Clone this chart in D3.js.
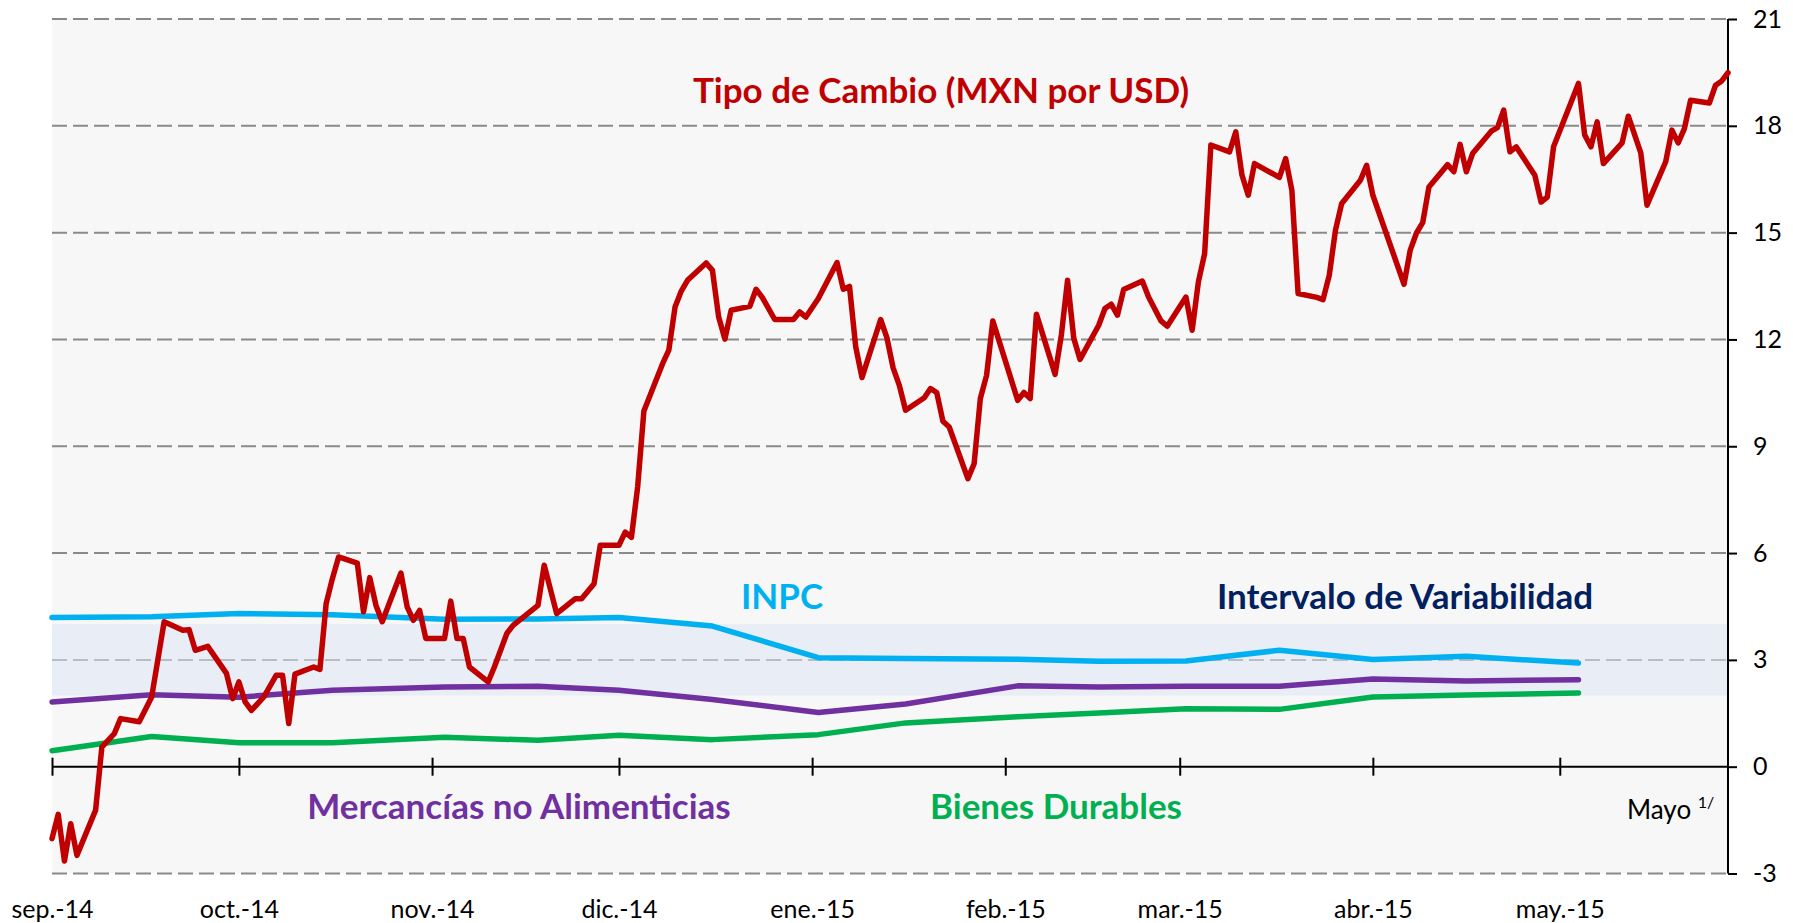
<!DOCTYPE html>
<html>
<head>
<meta charset="utf-8">
<title>Tipo de cambio e inflación</title>
<script src="https://d3js.org/d3.v7.min.js"></script>
<style>
body { margin: 0; background: #fff; }
text { font-family: Lato, "Open Sans", sans-serif; }
</style>
</head>
<body>
<svg width="1793" height="923"></svg>
<script>
// Tipo de cambio (variación), serie diaria
var fechasTC = ["2014-09-01","2014-09-02","2014-09-03","2014-09-04","2014-09-05","2014-09-08","2014-09-09","2014-09-10","2014-09-11","2014-09-12",
  "2014-09-15","2014-09-17","2014-09-19","2014-09-22","2014-09-23","2014-09-24","2014-09-26","2014-09-29","2014-09-30","2014-10-01",
  "2014-10-02","2014-10-03","2014-10-05","2014-10-07","2014-10-08","2014-10-09","2014-10-10","2014-10-13","2014-10-14","2014-10-15",
  "2014-10-16","2014-10-17","2014-10-20","2014-10-21","2014-10-22","2014-10-23","2014-10-24","2014-10-27","2014-10-28","2014-10-29",
  "2014-10-30","2014-10-31","2014-11-03","2014-11-04","2014-11-05","2014-11-06","2014-11-07","2014-11-10","2014-11-11","2014-11-13",
  "2014-11-14","2014-11-18","2014-11-19","2014-11-21","2014-11-24","2014-11-25","2014-11-27","2014-11-28","2014-12-01","2014-12-02",
  "2014-12-03","2014-12-04","2014-12-05","2014-12-08","2014-12-09","2014-12-10","2014-12-11","2014-12-12","2014-12-15","2014-12-16",
  "2014-12-17","2014-12-18","2014-12-19","2014-12-22","2014-12-23","2014-12-24","2014-12-26","2014-12-29","2014-12-30","2014-12-31",
  "2015-01-02","2015-01-05","2015-01-06","2015-01-07","2015-01-08","2015-01-09","2015-01-12","2015-01-13","2015-01-14","2015-01-15",
  "2015-01-16","2015-01-19","2015-01-20","2015-01-21","2015-01-22","2015-01-23","2015-01-26","2015-01-27","2015-01-28","2015-01-29",
  "2015-01-30","2015-02-03","2015-02-04","2015-02-05","2015-02-06","2015-02-09","2015-02-10","2015-02-11","2015-02-12","2015-02-13",
  "2015-02-16","2015-02-17","2015-02-18","2015-02-19","2015-02-20","2015-02-23","2015-02-24","2015-02-26","2015-02-27","2015-03-02",
  "2015-03-03","2015-03-04","2015-03-05","2015-03-06","2015-03-09","2015-03-10","2015-03-11","2015-03-12","2015-03-13","2015-03-17",
  "2015-03-18","2015-03-19","2015-03-20","2015-03-23","2015-03-24","2015-03-25","2015-03-26","2015-03-27","2015-03-30","2015-03-31",
  "2015-04-01","2015-04-06","2015-04-07","2015-04-08","2015-04-09","2015-04-10","2015-04-13","2015-04-14","2015-04-15","2015-04-16",
  "2015-04-17","2015-04-20","2015-04-21","2015-04-22","2015-04-23","2015-04-24","2015-04-27","2015-04-28","2015-04-29","2015-04-30",
  "2015-05-04","2015-05-05","2015-05-06","2015-05-07","2015-05-08","2015-05-11","2015-05-12","2015-05-14","2015-05-15","2015-05-18",
  "2015-05-19","2015-05-20","2015-05-21","2015-05-22","2015-05-25","2015-05-26","2015-05-27","2015-05-28"];
var tipoCambio = [-2.02,-1.34,-2.65,-1.60,-2.49,-1.22,0.55,0.74,0.93,1.35,
  1.26,1.96,4.07,3.83,3.85,3.27,3.38,2.62,1.91,2.38,
  1.82,1.58,1.96,2.57,2.57,1.21,2.60,2.80,2.73,4.58,
  5.28,5.89,5.72,4.35,5.31,4.53,4.07,5.44,4.49,4.11,
  4.39,3.60,3.60,4.65,3.60,3.60,2.80,2.38,2.80,3.74,
  3.97,4.53,5.66,4.30,4.72,4.72,5.14,6.22,6.22,6.59,
  6.44,7.86,9.99,11.32,11.70,12.91,13.36,13.66,14.15,13.94,
  12.63,12.01,12.82,12.93,13.41,13.18,12.56,12.56,12.77,12.63,
  13.15,14.16,13.41,13.49,11.79,10.93,12.56,12.05,11.20,10.71,
  10.01,10.36,10.62,10.51,9.70,9.54,8.09,8.51,10.34,10.99,
  12.52,10.29,10.51,10.34,12.71,11.02,12.12,13.66,12.03,11.44,
  12.40,12.87,12.99,12.68,13.40,13.64,13.19,12.52,12.37,13.19,
  12.26,13.62,14.41,17.46,17.27,17.83,16.61,16.05,16.94,16.55,
  17.08,16.19,13.29,13.18,13.12,13.80,15.07,15.82,16.47,16.89,
  16.05,13.55,14.51,14.99,15.28,16.28,16.91,16.71,17.48,16.71,
  17.22,17.85,17.95,18.44,17.27,17.41,16.61,15.86,16.00,17.41,
  19.19,17.74,17.41,18.11,16.94,17.52,18.27,17.24,15.77,16.99,
  17.88,17.52,17.92,18.72,18.64,19.14,19.26,19.49];

// Inflación quincenal (variación anual, %)
var fechasQ = ["2014-09-01","2014-09-17","2014-10-01","2014-10-16","2014-11-03","2014-11-18","2014-12-01","2014-12-16",
  "2015-01-02","2015-01-16","2015-02-03","2015-02-16","2015-03-02","2015-03-17","2015-04-01","2015-04-16","2015-05-04"];
var inpc       = [4.19,4.21,4.30,4.27,4.14,4.15,4.19,3.95,3.06,3.04,3.02,2.96,2.97,3.27,3.01,3.10,2.91];
var mercancias = [1.82,2.02,1.95,2.15,2.24,2.26,2.15,1.89,1.52,1.76,2.27,2.24,2.26,2.26,2.46,2.41,2.44];
var durables   = [0.45,0.85,0.67,0.67,0.83,0.74,0.88,0.76,0.90,1.23,1.40,1.51,1.63,1.61,1.96,2.01,2.07];

var intervalo = [2, 4];
var ticksY = [-3, 0, 3, 6, 9, 12, 15, 18, 21];
var mesesCortos = ["ene.","feb.","mar.","abr.","may.","jun.","jul.","ago.","sep.","oct.","nov.","dic."];

var svg = d3.select("svg"),
    pLeft = 52, pRight = 1728, pTop = 19, pBottom = 873.5;

var parse = d3.timeParse("%Y-%m-%d");
var es = d3.timeFormatLocale({
  dateTime: "%x, %X", date: "%d/%m/%Y", time: "%H:%M:%S", periods: ["AM", "PM"],
  days: ["domingo","lunes","martes","miércoles","jueves","viernes","sábado"],
  shortDays: ["dom","lun","mar","mié","jue","vie","sáb"],
  months: ["enero","febrero","marzo","abril","mayo","junio","julio","agosto","septiembre","octubre","noviembre","diciembre"],
  shortMonths: mesesCortos
});

var x = d3.scaleTime()
  .domain([parse("2014-09-01"), parse("2015-05-28")])
  .range([pLeft, pRight]);
var y = d3.scaleLinear()
  .domain([-3, 21])
  .range([pBottom, pTop]);

var tc = fechasTC.map(function(f, i) { return {fecha: parse(f), valor: tipoCambio[i]}; });
function serie(vals) {
  return fechasQ.map(function(f, i) { return {fecha: parse(f), valor: vals[i]}; });
}

// plot area
svg.append("rect")
  .attr("x", pLeft).attr("y", pTop)
  .attr("width", pRight - pLeft).attr("height", pBottom - pTop)
  .style("fill", "#f7f7f7");

// gridlines
svg.append("g").selectAll("line")
  .data(ticksY.filter(function(d) { return d !== 0; }))
  .enter().append("line")
  .attr("x1", pLeft).attr("x2", pRight)
  .attr("y1", function(d) { return y(d); })
  .attr("y2", function(d) { return y(d); })
  .style("stroke", "#8a8a8a")
  .style("stroke-width", 2)
  .style("stroke-dasharray", "15,6");

// intervalo de variabilidad
svg.append("rect")
  .attr("x", pLeft).attr("y", y(intervalo[1]))
  .attr("width", pRight - pLeft)
  .attr("height", y(intervalo[0]) - y(intervalo[1]))
  .style("fill", "rgb(220,229,245)")
  .style("opacity", 0.56);

// x axis at zero
var xAxis = svg.append("g")
  .attr("transform", "translate(0," + y(0) + ")")
  .call(d3.axisBottom(x).ticks(d3.timeMonth.every(1)).tickFormat(""));
xAxis.select(".domain").attr("d", "M" + pLeft + ",0H" + pRight)
  .style("stroke", "#000").style("stroke-width", 2);
xAxis.selectAll(".tick line")
  .attr("y1", -9).attr("y2", 9)
  .style("stroke", "#000").style("stroke-width", 2);

// month labels at the bottom
var xLab = svg.append("g")
  .attr("transform", "translate(0," + pBottom + ")")
  .call(d3.axisBottom(x).ticks(d3.timeMonth.every(1)).tickSize(0).tickPadding(0)
    .tickFormat(es.format("%b-%y")));
xLab.select(".domain").remove();
xLab.selectAll("text")
  .attr("y", 44).attr("dy", 0)
  .style("font-family", "Lato, sans-serif")
  .style("font-size", "25px")
  .style("fill", "#000");

// right y axis
var yAxis = svg.append("g")
  .attr("transform", "translate(" + pRight + ",0)")
  .call(d3.axisRight(y).tickValues(ticksY).tickSize(9).tickPadding(16)
    .tickFormat(function(d) { return String(d); }));
yAxis.select(".domain").attr("d", "M0," + pTop + "V" + pBottom)
  .style("stroke", "#000").style("stroke-width", 2);
yAxis.selectAll(".tick line").style("stroke", "#000").style("stroke-width", 2);
yAxis.selectAll("text")
  .style("font-family", "Lato, sans-serif")
  .style("font-size", "25px")
  .style("fill", "#000");

// lines
var line = d3.line()
  .x(function(d) { return x(d.fecha); })
  .y(function(d) { return y(d.valor); });

function dibuja(datos, color) {
  svg.append("path")
    .datum(datos)
    .attr("d", line)
    .style("fill", "none")
    .style("stroke", color)
    .style("stroke-width", 5.5)
    .style("stroke-linejoin", "round")
    .style("stroke-linecap", "round");
}
dibuja(serie(durables), "#00b050");
dibuja(serie(mercancias), "#7030a0");
dibuja(serie(inpc), "#00b0f0");
dibuja(tc, "#c00000");

// labels
function etiqueta(txt, cx, by, color) {
  svg.append("text")
    .attr("x", cx).attr("y", by)
    .attr("text-anchor", "middle")
    .style("font-family", "Lato, sans-serif")
    .style("font-weight", "bold")
    .style("font-size", "35px")
    .style("fill", color)
    .text(txt);
}
etiqueta("Tipo de Cambio (MXN por USD)", 941, 103, "#c00000");
etiqueta("INPC", 782, 609, "#00b0f0");
etiqueta("Intervalo de Variabilidad", 1405, 609, "#002060");
etiqueta("Mercancías no Alimenticias", 519, 819, "#7030a0");
etiqueta("Bienes Durables", 1056, 819, "#00b050");

var nota = svg.append("text")
  .attr("x", 1627).attr("y", 819)
  .style("font-family", "Lato, sans-serif")
  .style("font-size", "26px")
  .style("fill", "#000");
nota.append("tspan").text("Mayo ");
nota.append("tspan").attr("dy", -11).style("font-size", "16px").text("1/");
</script>
</body>
</html>
